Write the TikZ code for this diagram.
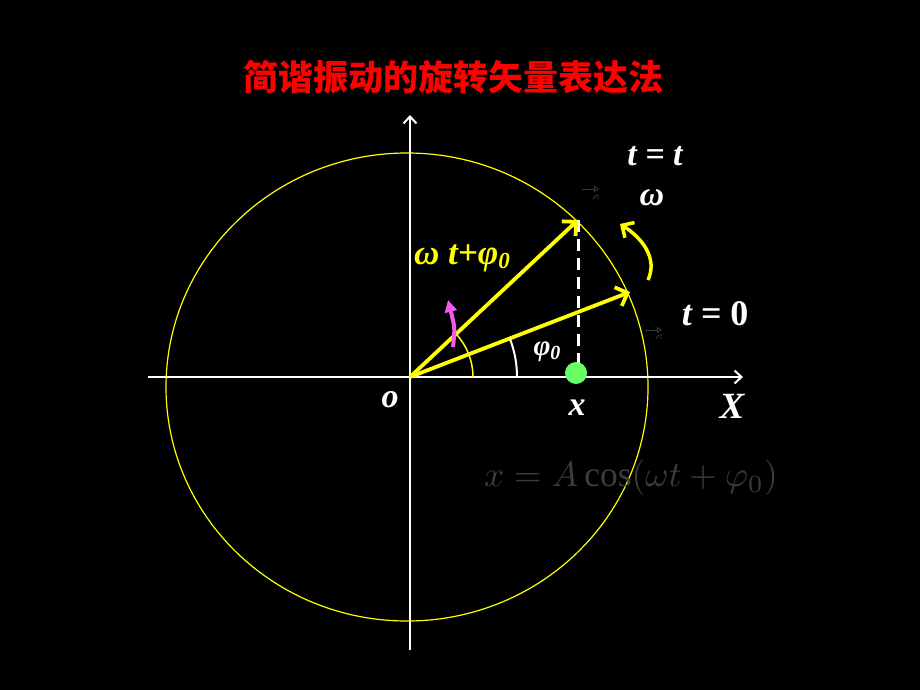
\documentclass[tikz,border=0pt]{standalone}
\usepackage{fontspec}
\setmainfont{Liberation Serif}
\newfontfamily\cjk{Noto Sans CJK SC}
\usetikzlibrary{arrows.meta, positioning}
\definecolor{my_yellow}{RGB}{255, 255, 0}
\definecolor{my_red}{RGB}{255, 0, 0}
\definecolor{my_green}{RGB}{102, 255, 102}
\definecolor{my_magenta}{RGB}{240, 90, 240}
\definecolor{my_ghost}{RGB}{60, 60, 60}
\tikzset {
  axis/.style = {draw=white, line width=2pt, -{Straight Barb[length=7pt, width=13pt, line width=2pt]}},
  vec/.style = {draw=my_yellow, line width=3.8pt, -{Straight Barb[length=10pt, width=20pt, line width=3.8pt]}},
  turn/.style = {draw=my_yellow, line width=3.5pt, -{Straight Barb[length=9pt, width=18pt, line width=3.5pt]}},
  push/.style = {draw=my_magenta, line width=4pt, -{Triangle[length=12pt, width=12pt]}},
  proj/.style = {draw=white, line width=3pt, dash pattern=on 12pt off 7pt},
  circ/.style = {draw=my_yellow, line width=1.2pt},
  ghost/.style = {draw=my_ghost, line width=0.8pt, -{Triangle[open, length=5pt, width=6pt]}},
  dot/.style = {circle, fill=my_green, minimum size=22pt, inner sep=0pt},
  lbl/.style = {text=white, font=\fontsize{34}{38}\selectfont\bfseries\itshape, inner sep=0pt},
  title/.style = {text=my_red, font=\fontsize{35}{40}\selectfont\cjk\bfseries, inner sep=0pt}
}

\begin{document}
\begin{tikzpicture}[x=1pt, y=-1pt]

    \fill[black] (0,0) rectangle (920,690);
    \useasboundingbox (0,0) rectangle (920,690);

    \node[title] (head) at (453,77) {简谐振动的旋转矢量表达法};

    % reference circle and axes
    \draw[circ] (407,387) ellipse [x radius=241, y radius=234];
    \coordinate (O) at (410,377);
    \coordinate (xl) at (148,377);
    \coordinate (xr) at (743,377);
    \coordinate (yb) at (410,650);
    \coordinate (yt) at (410,115);
    \draw[axis] (xl) -- (xr);
    \draw[axis] (yb) -- (yt);

    % rotating vector at t and at 0
    \coordinate (vt) at (578,220);
    \coordinate (v0) at (630,292);
    \coordinate (foot) at (578,372);
    \draw[proj] (vt) -- (foot);
    \draw[vec] (O) -- (vt);
    \draw[vec] (O) -- (v0);

    % angles
    \draw[my_yellow, line width=1.5pt] (473,377) arc [start angle=0, end angle=-43, radius=63];
    \draw[white, line width=2pt] (517,377) arc [start angle=0, end angle=-21, radius=107];
    \draw[push] (453,347) .. controls (455,328) .. (448,300);
    \draw[turn] (648,280) .. controls (658,258) and (642,238) .. (620,224);

    \node[dot] (px) at (576,373) {};

    % stray vector marks
    \draw[ghost] (582,189) -- (599,189);
    \draw[my_ghost, line width=0.8pt] (593,199) -- (596,195) -- (598,195) -- (598,199);
    \draw[ghost] (645,330) -- (662,330);
    \draw[my_ghost, line width=0.8pt] (656,339) -- (659,335) -- (661,335) -- (661,339);

    % labels
    \node[lbl] (tt) at (655,156) {t = t};
    \node[lbl] (om) at (652,198) {ω};
    \node[lbl, font=\fontsize{36}{40}\selectfont\bfseries\itshape] (t0) at (715,314) {t = \upshape 0};
    \node[lbl, text=my_yellow, font=\fontsize{35}{38}\selectfont\bfseries\itshape] (ph) at (462,258) {ω t+φ\raisebox{-0.25ex}{\fontsize{23}{26}\selectfont 0}};
    \node[lbl, font=\fontsize{29}{32}\selectfont\bfseries\itshape] (p0) at (547,352) {φ\raisebox{-0.25ex}{\fontsize{20}{22}\selectfont 0}};
    \node[lbl] (lo) at (390,400) {o};
    \node[lbl] (lx) at (577,408) {x};
    \node[lbl, font=\fontsize{37}{40}\selectfont\bfseries\itshape] (lX) at (732,406) {X};

    \node[text=my_ghost, inner sep=0pt, scale=3.55] (eq) at (631,478) {$x = A\cos(\omega t+\varphi_0)$};

\end{tikzpicture}
\end{document}
